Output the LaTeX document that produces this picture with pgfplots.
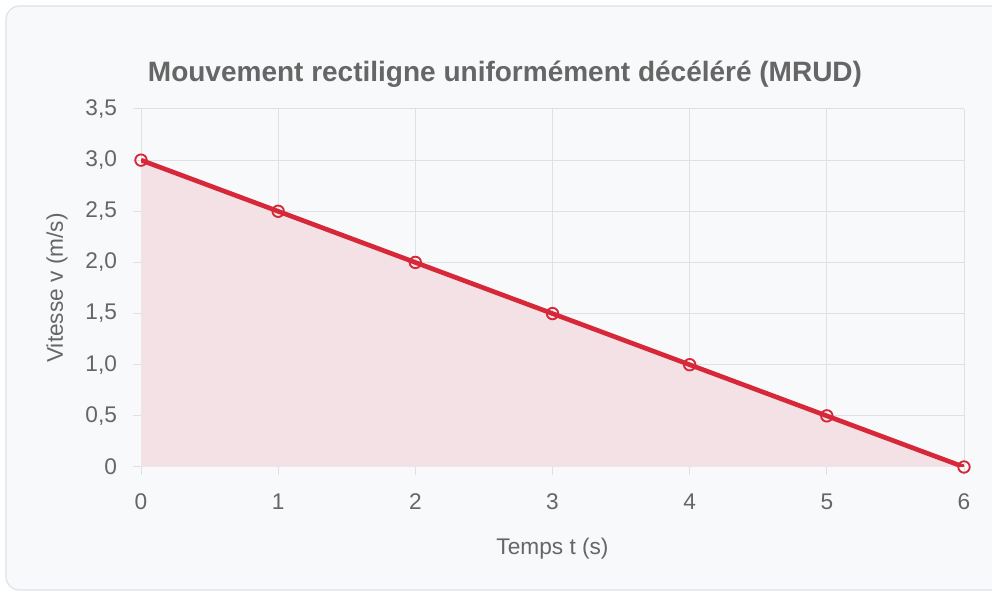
\documentclass[border=0pt]{standalone}
\usepackage{pgfplots}
\pgfplotsset{compat=1.18}
\usepackage{fontspec}
\setmainfont{Liberation Sans}
\definecolor{cardbg}{HTML}{F8F9FB}
\definecolor{cardborder}{HTML}{DCE3EC}
\definecolor{linered}{RGB}{214,40,57}
\definecolor{fillpink}{HTML}{F3E1E5}
\definecolor{gridc}{HTML}{E0E0E4}
\definecolor{txt}{HTML}{666666}
\begin{document}
\begin{tikzpicture}
\useasboundingbox (0,0) rectangle (744pt,444pt);
\fill[white] (0,0) rectangle (744pt,444pt);
\draw[cardborder, line width=0.9pt, fill=cardbg, rounded corners=10pt] (4.5pt,1.5pt) rectangle (760pt,439.5pt);
\begin{axis}[
  scale only axis,
  width=617.25pt, height=268.5pt,
  at={(105.75pt,93.75pt)}, anchor=south west,
  xmin=0, xmax=6, ymin=0, ymax=3.5,
  xtick={0,1,2,3,4,5,6},
  ytick={0,0.5,1,1.5,2,2.5,3,3.5},
  yticklabels={0,{0,5},{1,0},{1,5},{2,0},{2,5},{3,0},{3,5}},
  xticklabels={0,1,2,3,4,5,6},
  grid=major,
  grid style={gridc, line width=0.75pt},
  axis line style={gridc, line width=0.75pt},
  tick style={gridc, line width=0.75pt},
  tick align=outside,
  major tick length=6pt,
  axis x line*=bottom, axis y line*=left,
  x axis line style={-}, y axis line style={-},
  ticklabel style={font=\fontsize{17}{20}\selectfont, text=txt},
  yticklabel style={anchor=east, xshift=-8.5pt},
  xticklabel style={anchor=north, yshift=-10.5pt},
  xlabel={Temps t (s)},
  ylabel={Vitesse v (m/s)},
  label style={font=\fontsize{17}{20}\selectfont, text=txt},
  xlabel style={at={(axis description cs:0.5,-0.2290)}, anchor=center},
  ylabel style={at={(axis description cs:-0.1021,0.5)}, anchor=center, rotate=0},
  title={\textbf{Mouvement rectiligne uniformément décéléré (MRUD)}},
  title style={at={(axis description cs:0.4423,1.0755)}, anchor=center, font=\fontsize{21}{24}\selectfont, text=txt},
  clip marker paths=false,
]
\addplot[fill=fillpink, draw=none, forget plot] coordinates {(0,3) (1,2.5) (2,2) (3,1.5) (4,1) (5,0.5) (6,0)} \closedcycle;
\addplot[linered, line width=3.5pt, mark=o, mark size=4.3pt, mark options={line width=1.4pt, fill=none}] coordinates {(0,3) (1,2.5) (2,2) (3,1.5) (4,1) (5,0.5) (6,0)};
\end{axis}
\end{tikzpicture}
\end{document}
